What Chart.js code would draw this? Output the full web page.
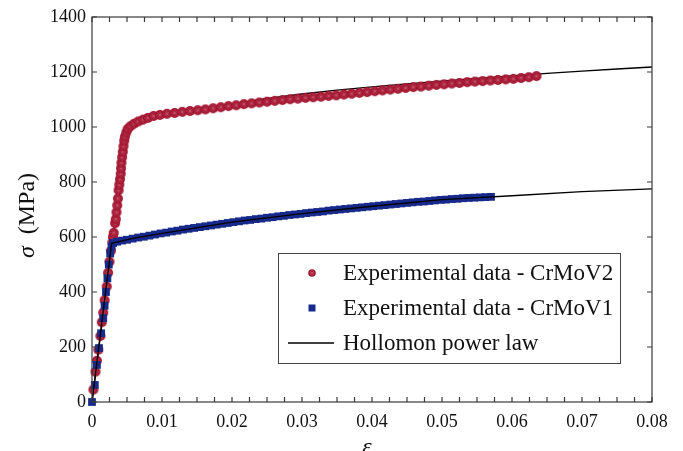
<!DOCTYPE html>
<html>
<head>
<meta charset="utf-8">
<script src="https://cdn.jsdelivr.net/npm/chart.js@4.4.1/dist/chart.umd.min.js"></script>
<style>
  html, body { margin: 0; padding: 0; background: #fff; }
  #wrap { width: 683px; height: 451px; }
</style>
</head>
<body>
<div id="wrap"><canvas id="chart"></canvas></div>
<script>
// ── Data ────────────────────────────────────────────────────────
// CrMoV2 experimental (red circles)
const strainV2 = [
  0.0002, 0.0005, 0.0007, 0.0009, 0.0012, 0.0014, 0.0016, 0.0018, 0.0021, 0.0023,
  0.0025, 0.0027, 0.0029, 0.0030, 0.0031, 0.0033, 0.0034, 0.0035, 0.0036, 0.0037,
  0.0038, 0.0039, 0.0040, 0.0041, 0.00415, 0.0042, 0.0043, 0.0044, 0.0045, 0.0046,
  0.0047, 0.0049, 0.0051,
  0.0055, 0.0060, 0.0066, 0.0073, 0.0080, 0.0088, 0.0097, 0.0107, 0.0118, 0.0129,
  0.0140, 0.0151, 0.0162, 0.0173, 0.0184, 0.0195, 0.0206, 0.0217, 0.0228, 0.0239,
  0.0250, 0.0261, 0.0272, 0.0283, 0.0294, 0.0305, 0.0316, 0.0327, 0.0338, 0.0349,
  0.0360, 0.0371, 0.0382, 0.0393, 0.0404, 0.0415, 0.0426, 0.0437, 0.0448, 0.0459,
  0.0470, 0.0481, 0.0492, 0.0503, 0.0514, 0.0525, 0.0536, 0.0547, 0.0558, 0.0569,
  0.0580, 0.0591, 0.0602, 0.0613, 0.0624, 0.0635,
];
const stressV2 = [
  45, 110, 150, 190, 240, 290, 325, 370, 420, 470,
  510, 550, 580, 600, 615, 650, 665, 690, 715, 740,
  770, 790, 810, 830, 850, 870, 890, 910, 930, 950,
  965, 980, 993,
  1003, 1012, 1020, 1027, 1033, 1040, 1044, 1048, 1051, 1055,
  1058, 1061, 1064, 1068, 1072, 1076, 1079, 1083, 1086, 1089,
  1092, 1095, 1098, 1101, 1103, 1106, 1108, 1110, 1113, 1115,
  1118, 1121, 1124, 1127, 1130, 1133, 1136, 1139, 1142, 1145,
  1147, 1150, 1153, 1155, 1158, 1160, 1163, 1165, 1167, 1169,
  1171, 1173, 1175, 1178, 1181, 1185,
];

// CrMoV1 experimental (blue squares)
const strainV1 = [
  0.0000, 0.0004, 0.0007, 0.0010, 0.0013, 0.0016, 0.0018, 0.0020, 0.0022, 0.0024,
  0.0026, 0.0028,
  0.0030, 0.0036, 0.0043, 0.0050, 0.0058, 0.0066, 0.0074, 0.0082, 0.0090, 0.0098,
  0.0106, 0.0114, 0.0122, 0.0130, 0.0138, 0.0146, 0.0154, 0.0162, 0.0170, 0.0178,
  0.0186, 0.0194, 0.0202, 0.0210, 0.0218, 0.0226, 0.0234, 0.0242, 0.0250, 0.0258,
  0.0266, 0.0274, 0.0282, 0.0290, 0.0298, 0.0306, 0.0314, 0.0322, 0.0330, 0.0338,
  0.0346, 0.0354, 0.0362, 0.0370, 0.0378, 0.0386, 0.0394, 0.0402, 0.0410, 0.0418,
  0.0426, 0.0434, 0.0442, 0.0450, 0.0458, 0.0466, 0.0474, 0.0482, 0.0490, 0.0498,
  0.0506, 0.0514, 0.0522, 0.0530, 0.0538, 0.0546, 0.0554, 0.0562, 0.0570,
];
const stressV1 = [
  0, 62, 135, 196, 250, 305, 350, 400, 450, 500,
  540, 565,
  578, 583, 587, 590, 594, 598, 601, 605, 609, 613,
  616, 620, 623, 627, 630, 633, 636, 639, 642, 645,
  648, 651, 654, 657, 660, 662, 665, 667, 670, 672,
  675, 677, 680, 682, 684, 687, 689, 691, 693, 696,
  698, 700, 702, 704, 706, 708, 710, 712, 714, 716,
  718, 720, 722, 724, 726, 728, 729, 731, 733, 735,
  736, 738, 739, 741, 742, 743, 744, 745, 746,
];

// Hollomon power law fits (black lines)
const fitStrainV2 = [0, 0.005, 0.010, 0.015, 0.020, 0.024, 0.030, 0.035, 0.040, 0.045, 0.050, 0.055, 0.060, 0.065, 0.070, 0.075, 0.080];
const fitStressV2 = [0, 1005, 1046, 1062, 1078, 1100, 1120, 1134, 1146, 1157, 1167, 1177, 1186, 1195, 1203, 1211, 1218];
const fitStrainV1 = [0, 0.0028, 0.006, 0.010, 0.020, 0.030, 0.040, 0.050, 0.060, 0.070, 0.080];
const fitStressV1 = [0, 577, 596, 613, 654, 685, 712, 736, 750, 765, 775];

const xTicks = [0, 0.01, 0.02, 0.03, 0.04, 0.05, 0.06, 0.07, 0.08];
const yTicks = [0, 200, 400, 600, 800, 1000, 1200, 1400];
const legendLabels = ['Experimental data - CrMoV2', 'Experimental data - CrMoV1', 'Hollomon power law'];

const RED = '#a2142f';
const BLUE = '#17298a';
const SERIF = '"Liberation Serif", "Times New Roman", serif';

const toXY = (xs, ys) => xs.map((x, i) => ({ x, y: ys[i] }));

// red circle marker with the faint star pattern seen in the figure
function circleMarker(r) {
  const s = Math.ceil(r * 2 + 2);
  const c = document.createElement('canvas');
  c.width = s; c.height = s;
  const g = c.getContext('2d');
  const m = s / 2;
  g.fillStyle = RED;
  g.beginPath(); g.arc(m, m, r, 0, Math.PI * 2); g.fill();
  g.strokeStyle = 'rgba(235,150,170,0.35)';
  g.lineWidth = 0.8;
  g.beginPath();
  g.moveTo(m - r * 0.8, m); g.lineTo(m + r * 0.8, m);
  g.moveTo(m, m - r * 0.8); g.lineTo(m, m + r * 0.8);
  g.moveTo(m - r * 0.55, m - r * 0.55); g.lineTo(m + r * 0.55, m + r * 0.55);
  g.moveTo(m - r * 0.55, m + r * 0.55); g.lineTo(m + r * 0.55, m - r * 0.55);
  g.stroke();
  return c;
}
const redDot = circleMarker(5);

// ── frame, inward ticks, axis titles and legend ─────────────────
const framePlugin = {
  id: 'frame',
  afterDraw(chart) {
    const { ctx, chartArea: a, scales: { x, y } } = chart;
    ctx.save();
    ctx.strokeStyle = '#3a3a3a';
    ctx.lineWidth = 1.2;
    ctx.strokeRect(a.left, a.top, a.right - a.left, a.bottom - a.top);

    ctx.beginPath();
    const T = 5;
    for (let i = 0; i <= 32; i++) {
      const px = x.getPixelForValue(i * 0.0025);
      ctx.moveTo(px, a.bottom); ctx.lineTo(px, a.bottom - T);
      ctx.moveTo(px, a.top); ctx.lineTo(px, a.top + T);
    }
    yTicks.forEach(v => {
      const py = y.getPixelForValue(v);
      ctx.moveTo(a.left, py); ctx.lineTo(a.left + T, py);
      ctx.moveTo(a.right, py); ctx.lineTo(a.right - T, py);
    });
    ctx.stroke();

    // y title: σ (MPa)
    ctx.fillStyle = '#111';
    ctx.textBaseline = 'middle';
    ctx.translate(28, (a.top + a.bottom) / 2 + 6);
    ctx.rotate(-Math.PI / 2);
    const fItal = 'italic 24px ' + SERIF;
    const fNorm = '24px ' + SERIF;
    ctx.font = fItal; const w1 = ctx.measureText('σ').width;
    ctx.font = fNorm; const w2 = ctx.measureText('  (MPa)').width;
    const sx = -(w1 + w2) / 2;
    ctx.font = fItal; ctx.textAlign = 'left'; ctx.fillText('σ', sx, 0);
    ctx.font = fNorm; ctx.fillText('  (MPa)', sx + w1, 0);
    ctx.setTransform(1, 0, 0, 1, 0, 0);

    // x title: ε (mostly cut by the bottom edge)
    ctx.font = 'italic 24px ' + SERIF;
    ctx.textAlign = 'center';
    ctx.textBaseline = 'alphabetic';
    ctx.fillText('ε', (a.left + a.right) / 2 - 5, a.bottom + 52);

    // legend box
    const bx = a.right - 374, by = a.bottom - 149, bw = 342, bh = 110;
    ctx.fillStyle = '#fff';
    ctx.fillRect(bx, by, bw, bh);
    ctx.strokeStyle = '#444';
    ctx.lineWidth = 1;
    ctx.strokeRect(bx + 0.5, by + 0.5, bw, bh);

    const rowY = [by + 20, by + 55, by + 90];
    const mx = bx + 34;
    ctx.drawImage(circleMarker(3.8), mx - 5, rowY[0] - 5);
    ctx.fillStyle = BLUE;
    ctx.fillRect(mx - 3.5, rowY[1] - 3.5, 7, 7);
    ctx.strokeStyle = '#000';
    ctx.lineWidth = 1.3;
    ctx.beginPath(); ctx.moveTo(bx + 10, rowY[2]); ctx.lineTo(bx + 56, rowY[2]); ctx.stroke();

    ctx.fillStyle = '#111';
    ctx.font = '23px ' + SERIF;
    ctx.textAlign = 'left';
    ctx.textBaseline = 'middle';
    legendLabels.forEach((t, i) => ctx.fillText(t, bx + 65, rowY[i] + 1));
    ctx.restore();
  },
};

const tickFont = { family: SERIF, size: 18 };

// drawing order (bottom → top): red fit, red markers, blue markers, blue fit
new Chart(document.getElementById('chart'), {
  type: 'scatter',
  data: {
    datasets: [
      {
        label: legendLabels[0],
        data: toXY(strainV2, stressV2),
        pointStyle: redDot,
        pointRadius: 5,
        clip: false,
        order: 2,
      },
      {
        label: legendLabels[1],
        data: toXY(strainV1, stressV1),
        pointStyle: 'rect',
        pointRadius: 5.5,
        backgroundColor: BLUE,
        borderWidth: 0,
        clip: false,
        order: 1,
      },
      {
        label: legendLabels[2],
        data: toXY(fitStrainV2, fitStressV2),
        showLine: true,
        borderColor: '#000',
        borderWidth: 1.4,
        pointRadius: 0,
        tension: 0,
        order: 3,
      },
      {
        label: legendLabels[2],
        data: toXY(fitStrainV1, fitStressV1),
        showLine: true,
        borderColor: '#000',
        borderWidth: 1.4,
        pointRadius: 0,
        tension: 0,
        order: 0,
      },
    ],
  },
  options: {
    responsive: true,
    maintainAspectRatio: false,
    animation: false,
    events: [],
    layout: { padding: { left: 0, right: 31, top: 17, bottom: 0 } },
    plugins: {
      legend: { display: false },
      tooltip: { enabled: false },
    },
    scales: {
      x: {
        type: 'linear',
        min: 0,
        max: 0.08,
        afterBuildTicks: s => { s.ticks = xTicks.map(v => ({ value: v })); },
        ticks: {
          font: tickFont,
          color: '#111',
          padding: 9,
          maxRotation: 0,
          callback: v => String(+v.toFixed(2)),
        },
        grid: { display: false, drawTicks: false },
        border: { display: false },
        afterFit: s => { s.height = 49; },
      },
      y: {
        min: 0,
        max: 1400,
        afterBuildTicks: s => { s.ticks = yTicks.map(v => ({ value: v })); },
        ticks: { font: tickFont, color: '#111', padding: 6, callback: v => String(v) },
        grid: { display: false, drawTicks: false },
        border: { display: false },
        afterFit: s => { s.width = 92; },
      },
    },
  },
  plugins: [framePlugin],
});
</script>
</body>
</html>
